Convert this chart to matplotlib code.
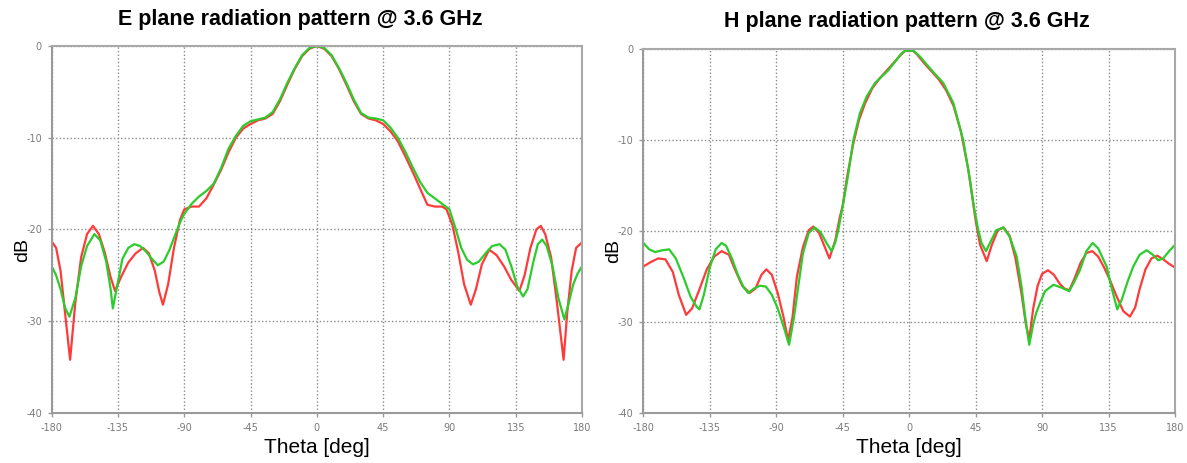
import matplotlib
matplotlib.use("Agg")
import matplotlib.pyplot as plt

# E plane, red trace
e_red_theta = [-180, -177, -174, -171, -167.5, -164, -160, -156, -152, -148, -144, -140, -137, -133,
               -128, -123, -118, -114, -110, -107, -104.5, -101, -97, -93, -90, -85, -80, -75, -70,
               -65, -60, -55, -50, -45, -40, -35, -30, -25, -20, -15, -10, -5, 0, 5, 10, 15, 20, 25,
               30, 35, 40, 45, 50, 55, 60, 65, 70, 75, 80, 85, 88, 92, 96, 100, 104.5, 108, 112, 117,
               122, 127, 132, 137.5, 141, 145, 149, 152, 155, 159, 163, 167.5, 170, 173, 176, 180]
e_red_db = [-21.3, -22.0, -24.5, -29.0, -34.2, -28.0, -23.0, -20.5, -19.6, -20.5, -22.5, -25.2, -26.7,
            -25.2, -23.6, -22.6, -22.0, -22.6, -24.5, -26.8, -28.2, -26.0, -22.0, -19.0, -17.8, -17.5,
            -17.5, -16.6, -15.1, -13.5, -11.6, -10.0, -9.0, -8.5, -8.1, -7.9, -7.4, -6.0, -4.2, -2.5,
            -1.1, -0.3, 0.0, -0.3, -1.1, -2.5, -4.2, -6.0, -7.4, -7.9, -8.1, -8.5, -9.3, -10.4, -12.0,
            -13.7, -15.5, -17.3, -17.5, -17.5, -17.8, -19.5, -22.5, -26.0, -28.2, -26.5, -23.8, -22.2,
            -22.8, -24.0, -25.5, -26.7, -25.0, -22.0, -20.0, -19.6, -20.5, -23.0, -28.0, -34.2, -29.0,
            -24.5, -22.0, -21.4]

# E plane, green trace
e_green_theta = [-180, -177, -174, -171, -168, -164, -160, -156, -151, -147, -143, -140, -138.5, -136,
                 -132, -128, -124, -120, -116, -112, -108, -104, -100, -96, -92, -90, -85, -80, -75,
                 -70, -65, -60, -55, -50, -45, -40, -35, -30, -25, -20, -15, -10, -5, 0, 5, 10, 15, 20,
                 25, 30, 35, 40, 45, 50, 55, 60, 65, 70, 75, 80, 85, 90, 94, 98, 102, 106, 110, 115,
                 119, 124, 128, 132, 136, 140, 143, 147, 150, 153, 156, 160, 164, 168, 171, 174, 177, 180]
e_green_db = [-24.0, -25.0, -26.5, -28.5, -29.5, -27.5, -24.0, -21.8, -20.5, -21.2, -23.5, -26.5, -28.6,
              -26.5, -23.2, -22.0, -21.6, -21.8, -22.4, -23.2, -23.9, -23.5, -22.2, -20.5, -18.9, -18.3,
              -17.2, -16.4, -15.8, -15.0, -13.3, -11.2, -9.8, -8.7, -8.2, -8.0, -7.8, -7.2, -5.8, -4.0,
              -2.4, -1.0, -0.2, 0.0, -0.2, -1.0, -2.4, -4.0, -5.8, -7.3, -7.8, -7.9, -8.1, -8.9, -10.0,
              -11.5, -13.2, -14.8, -16.0, -16.6, -17.2, -17.8, -19.8, -22.0, -23.3, -23.8, -23.5, -22.5,
              -21.8, -21.6, -22.2, -24.0, -26.2, -27.3, -26.5, -23.5, -21.6, -21.1, -21.8, -24.0, -27.5,
              -29.8, -28.0, -26.0, -24.8, -24.0]

# H plane, red trace
h_red_theta = [-180, -175, -170, -165, -160, -156, -151, -147, -142, -137, -132, -127, -122, -118, -113,
               -108, -104, -100, -96.7, -93, -89, -85, -82, -79, -76, -72, -68, -65, -61, -57, -54, -50,
               -47, -45, -42, -38, -34, -30, -25, -20, -15, -10, -5, -2.5, 2.5, 5, 10, 15, 20, 25, 30,
               35, 40, 45, 48, 52.5, 56, 60, 64, 68, 72, 76, 79, 81.3, 84, 87, 90, 94, 98, 102, 105,
               108.4, 112, 116, 120, 124, 128, 132, 136, 140, 145, 149.5, 153, 156, 160, 164, 168, 172,
               176, 180]
h_red_db = [-23.9, -23.4, -23.0, -23.1, -24.5, -27.0, -29.2, -28.5, -26.4, -24.2, -22.8, -22.2, -22.6,
            -24.2, -26.0, -26.8, -26.3, -24.8, -24.2, -24.8, -26.8, -29.5, -32.0, -29.5, -25.0, -21.8,
            -19.9, -19.5, -20.2, -21.8, -23.0, -21.0, -18.5, -17.2, -14.0, -10.5, -7.8, -6.0, -4.3, -3.2,
            -2.3, -1.4, -0.5, -0.15, -0.15, -0.5, -1.5, -2.4, -3.3, -4.5, -6.2, -9.0, -13.2, -18.8, -21.5,
            -23.3, -21.5, -19.9, -19.6, -20.5, -23.0, -26.8, -30.2, -31.9, -28.5, -26.0, -24.7, -24.3,
            -24.8, -25.8, -26.3, -26.5, -25.2, -23.5, -22.4, -22.2, -22.8, -24.0, -25.4, -27.0, -28.8,
            -29.4, -28.4, -26.4, -24.2, -23.0, -22.7, -23.1, -23.6, -24.0]

# H plane, green trace
h_green_theta = [-180, -176, -172, -167, -162.5, -158, -153, -148, -144, -142, -139, -135, -131, -127,
                 -124, -120, -116, -112, -109, -105, -101, -97, -93, -89, -85, -81.3, -78, -75, -72, -68,
                 -64, -60, -56, -52.5, -50, -48, -44.6, -41, -37.8, -33.3, -28.8, -23.1, -14.1, -5.1,
                 -2.8, 2.8, 7.3, 16.3, 23.1, 29.9, 36.6, 41.2, 44, 46.8, 49, 52, 55, 59, 63.7, 68, 72.8,
                 76, 79, 81.3, 84, 86, 88.6, 92, 97.6, 103, 108.4, 112, 115.6, 120, 124.2, 128, 133.7,
                 137, 140.9, 144, 148, 151.7, 156, 160.8, 165, 168.7, 172, 176, 180]
h_green_db = [-21.3, -22.0, -22.3, -22.1, -22.0, -23.0, -25.0, -27.2, -28.3, -28.6, -27.0, -24.0, -22.0,
              -21.3, -21.6, -23.0, -24.8, -26.2, -26.8, -26.3, -26.0, -26.1, -27.0, -28.5, -30.5, -32.5,
              -29.5, -26.0, -22.5, -20.2, -19.6, -20.1, -21.3, -22.2, -21.2, -19.9, -16.9, -13.5, -10.0,
              -7.0, -5.2, -3.7, -2.3, -0.44, -0.15, -0.15, -0.8, -2.5, -3.7, -5.9, -10.0, -14.4, -17.5,
              -19.9, -21.3, -22.2, -21.2, -19.9, -19.6, -20.6, -22.8, -26.0, -30.0, -32.5, -30.2, -29.0,
              -27.9, -26.6, -25.9, -26.2, -26.6, -25.5, -24.3, -22.2, -21.3, -21.9, -23.9, -26.2, -28.6,
              -27.5, -25.5, -23.9, -22.6, -22.1, -22.6, -23.2, -23.0, -22.2, -21.5]

theta_ticks = [-180, -135, -90, -45, 0, 45, 90, 135, 180]
db_ticks = [0, -10, -20, -30, -40]

RED = "#ff3a3a"
GREEN = "#2bcc2b"
GRAY = "#9a9a9a"


def pattern_panel(ax, red_theta, red_db, green_theta, green_db):
    ax.plot(red_theta, red_db, color=RED, lw=1.6, solid_joinstyle="round")
    ax.plot(green_theta, green_db, color=GREEN, lw=1.6, solid_joinstyle="round")
    ax.set_xlim(-180, 180)
    ax.set_ylim(-40, 0)
    ax.set_xticks(theta_ticks)
    ax.set_xticklabels([str(t) for t in theta_ticks])
    ax.set_yticks(db_ticks)
    ax.set_yticklabels([str(d) for d in db_ticks])
    ax.grid(True, color="#8a8a8a", lw=1.0, linestyle=(0, (1, 1.6)))
    ax.tick_params(length=3, width=1, color=GRAY, labelcolor="#7a7a7a", labelsize=7, pad=4)
    for s in ax.spines.values():
        s.set_color("#a8a8a8")
        s.set_linewidth(1.5)
    ax.spines["left"].set_color(GRAY)
    ax.spines["bottom"].set_color(GRAY)
    ax.set_xlabel("Theta [deg]", fontsize=15, family="Liberation Sans", labelpad=4)
    ax.set_ylabel("dB", fontsize=14, family="Liberation Sans")
    # dB sits a bit below the middle, clear of the -20 label
    ax.yaxis.set_label_coords(-0.039, 0.445)


fig = plt.figure(figsize=(11.87, 4.63), dpi=100)
ax1 = fig.add_axes([0.04356, 0.10799, 0.44676, 0.79266])
ax2 = fig.add_axes([0.54196, 0.10799, 0.44794, 0.78553])

pattern_panel(ax1, e_red_theta, e_red_db, e_green_theta, e_green_db)
pattern_panel(ax2, h_red_theta, h_red_db, h_green_theta, h_green_db)

fig.text(300 / 1187, 1 - 19 / 463, "E plane radiation pattern @ 3.6 GHz", ha="center", va="center",
         fontsize=15.5, fontweight="bold", family="Liberation Sans")
fig.text(907 / 1187, 1 - 21 / 463, "H plane radiation pattern @ 3.6 GHz", ha="center", va="center",
         fontsize=15.5, fontweight="bold", family="Liberation Sans")

fig.savefig("out.png", dpi=100)
